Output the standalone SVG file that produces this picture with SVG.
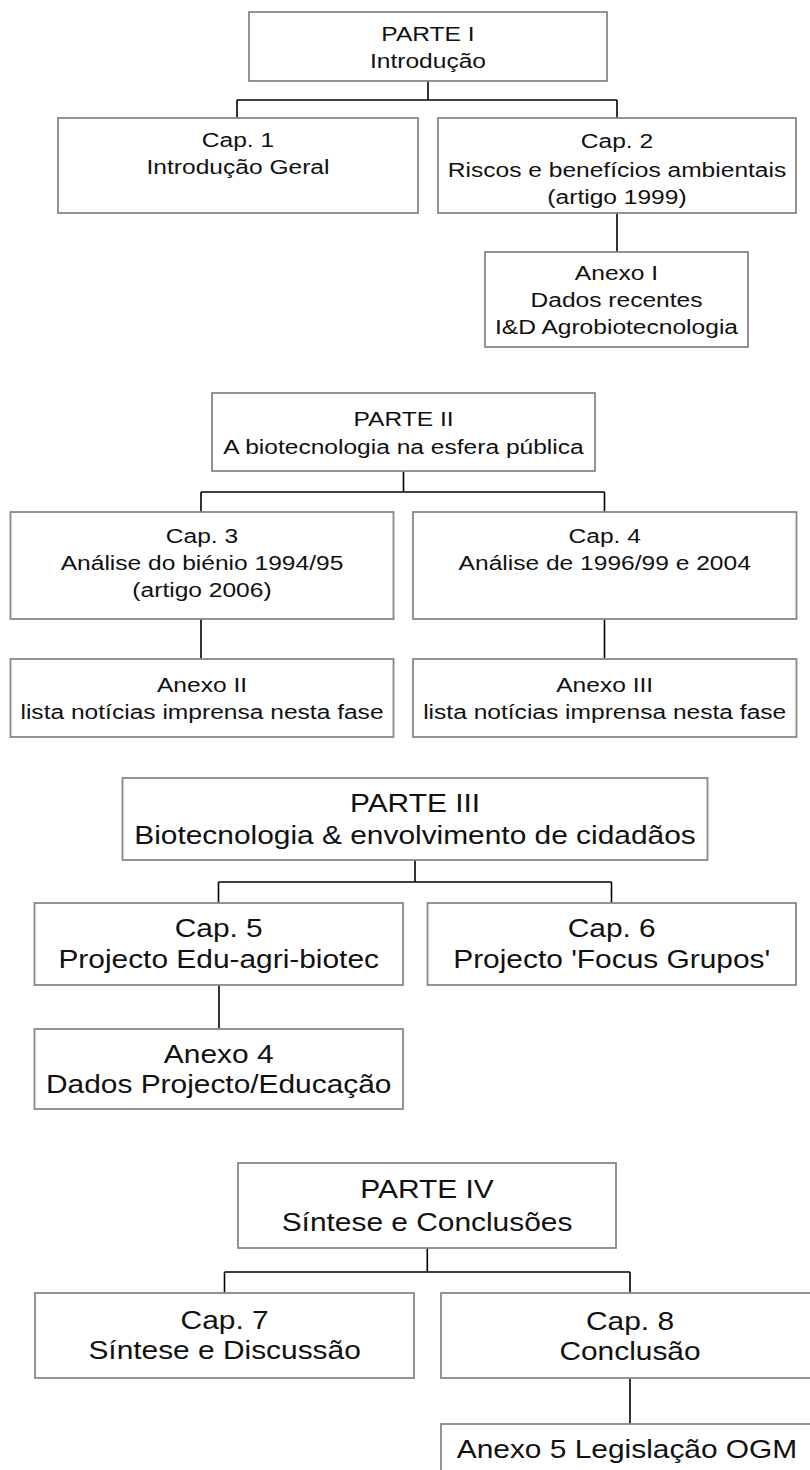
<svg xmlns="http://www.w3.org/2000/svg" width="810" height="1470" viewBox="0 0 810 1470">
<style>
.box{fill:#fff;stroke:#888;stroke-width:1.8}
.con{fill:none;stroke:#000;stroke-width:1.6}
text{font-family:"Liberation Sans",Arial,sans-serif;fill:#111;text-anchor:middle}
.s{font-size:21px}
.l{font-size:26px}
</style>
<rect width="810" height="1470" fill="#fff"/>
<g id="connectors">
<path class="con" d="M428,81V100M237,100H617M237,100V118M617,100V118"/>
<path class="con" d="M617,213V252"/>
<path class="con" d="M403.5,471V492M201,492H604.5M201,492V512M604.5,492V512"/>
<path class="con" d="M201,619V659M604.5,619V659"/>
<path class="con" d="M415,860V882M218.5,882H611.5M218.5,882V903M611.5,882V903"/>
<path class="con" d="M219,985V1029"/>
<path class="con" d="M427.3,1248V1272M224.5,1272H630M224.5,1272V1293M630,1272V1293"/>
<path class="con" d="M630,1378V1424"/>
</g>
<g id="parte1">
<rect class="box" x="249" y="12" width="358" height="69"/>
<g transform="translate(428,0) scale(1.17,1)" class="s"><text y="41">PARTE I</text><text y="68">Introdução</text></g>
</g>
<g id="cap1">
<rect class="box" x="58" y="118" width="360" height="95"/>
<g transform="translate(238,0) scale(1.17,1)" class="s"><text y="147">Cap. 1</text><text y="174">Introdução Geral</text></g>
</g>
<g id="cap2">
<rect class="box" x="438" y="118" width="358" height="95"/>
<g transform="translate(617,0) scale(1.17,1)" class="s"><text y="148">Cap. 2</text><text y="177">Riscos e benefícios ambientais</text><text y="204">(artigo 1999)</text></g>
</g>
<g id="anexo1">
<rect class="box" x="485" y="252" width="263" height="95"/>
<g transform="translate(616.5,0) scale(1.17,1)" class="s"><text y="280.5">Anexo I</text><text y="307.5">Dados recentes</text><text y="334.5">I&amp;D Agrobiotecnologia</text></g>
</g>
<g id="parte2">
<rect class="box" x="212" y="393" width="383" height="78"/>
<g transform="translate(403.5,0) scale(1.17,1)" class="s"><text y="426">PARTE II</text><text y="454.5">A biotecnologia na esfera pública</text></g>
</g>
<g id="cap3">
<rect class="box" x="10.5" y="512" width="383" height="107"/>
<g transform="translate(202,0) scale(1.17,1)" class="s"><text y="543">Cap. 3</text><text y="570">Análise do biénio 1994/95</text><text y="597">(artigo 2006)</text></g>
</g>
<g id="cap4">
<rect class="box" x="413" y="512" width="383.5" height="107"/>
<g transform="translate(604.7,0) scale(1.17,1)" class="s"><text y="543">Cap. 4</text><text y="570">Análise de 1996/99 e 2004</text></g>
</g>
<g id="anexo2">
<rect class="box" x="10.5" y="659" width="383" height="78"/>
<g transform="translate(202,0) scale(1.17,1)" class="s"><text y="692">Anexo II</text><text y="719.5">lista notícias imprensa nesta fase</text></g>
</g>
<g id="anexo3">
<rect class="box" x="413" y="659" width="383.5" height="78"/>
<g transform="translate(604.7,0) scale(1.17,1)" class="s"><text y="692">Anexo III</text><text y="719.5">lista notícias imprensa nesta fase</text></g>
</g>
<g id="parte3">
<rect class="box" x="122.5" y="778" width="585" height="82"/>
<g transform="translate(415,0) scale(1.15,1)" class="l"><text y="812.5">PARTE III</text><text y="844">Biotecnologia &amp; envolvimento de cidadãos</text></g>
</g>
<g id="cap5">
<rect class="box" x="34.5" y="903" width="368.5" height="82"/>
<g transform="translate(218.7,0) scale(1.15,1)" class="l"><text y="937">Cap. 5</text><text y="968">Projecto Edu-agri-biotec</text></g>
</g>
<g id="cap6">
<rect class="box" x="427.5" y="903" width="368.5" height="82"/>
<g transform="translate(611.7,0) scale(1.15,1)" class="l"><text y="937">Cap. 6</text><text y="968">Projecto 'Focus Grupos'</text></g>
</g>
<g id="anexo4">
<rect class="box" x="34.5" y="1029" width="368.5" height="80"/>
<g transform="translate(218.7,0) scale(1.15,1)" class="l"><text y="1062.7">Anexo 4</text><text y="1093.3">Dados Projecto/Educação</text></g>
</g>
<g id="parte4">
<rect class="box" x="238" y="1163" width="378" height="85"/>
<g transform="translate(427,0) scale(1.15,1)" class="l"><text y="1198.3">PARTE IV</text><text y="1230.7">Síntese e Conclusões</text></g>
</g>
<g id="cap7">
<rect class="box" x="35" y="1293" width="379" height="85"/>
<g transform="translate(224.6,0) scale(1.15,1)" class="l"><text y="1329.5">Cap. 7</text><text y="1359.5">Síntese e Discussão</text></g>
</g>
<g id="cap8">
<rect class="box" x="441" y="1293" width="378" height="85"/>
<g transform="translate(630,0) scale(1.15,1)" class="l"><text y="1330">Cap. 8</text><text y="1360">Conclusão</text></g>
</g>
<g id="anexo5">
<rect class="box" x="441" y="1424" width="378" height="60"/>
<g transform="translate(627,0) scale(1.15,1)" class="l"><text y="1458.3">Anexo 5 Legislação OGM</text></g>
</g>
</svg>
